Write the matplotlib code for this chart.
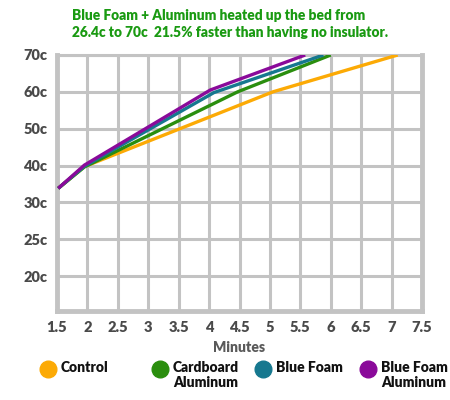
import matplotlib
matplotlib.use("Agg")
import matplotlib.pyplot as plt
import numpy as np
from matplotlib.lines import Line2D

plt.rcParams['font.family'] = ['Lato', 'DejaVu Sans']

# Data (minutes, temperature in c)
series_names = ["Control", "Cardboard\nAluminum", "Blue Foam", "Blue Foam\nAluminum"]
colors = ["#FCAA05", "#2A8E0E", "#16788F", "#8A0A9A"]
control_x = [1.52, 1.95, 5.05, 7.1]
control_y = [33.8, 39.7, 60.0, 70.0]
cardboard_x = [1.52, 1.95, 4.47, 6.0]
cardboard_y = [33.8, 39.6, 60.0, 70.0]
bluefoam_x = [1.52, 1.95, 4.08, 5.88]
bluefoam_y = [33.8, 39.8, 59.8, 70.0]
bluefoam_al_x = [1.52, 1.95, 4.02, 5.58]
bluefoam_al_y = [33.8, 40.1, 60.5, 70.0]

y_tick_values = [20, 25, 30, 40, 50, 60, 70]
y_tick_labels = ["20c", "25c", "30c", "40c", "50c", "60c", "70c"]
x_ticks = [1.5, 2, 2.5, 3, 3.5, 4, 4.5, 5, 5.5, 6, 6.5, 7, 7.5]
x_tick_labels = ["1.5", "2", "2.5", "3", "3.5", "4", "4.5", "5", "5.5", "6", "6.5", "7", "7.5"]

title = "Blue Foam + Aluminum heated up the bed from\n26.4c to 70c  21.5% faster than having no insulator."

ypos = np.arange(len(y_tick_values))

def tpos(v):
    return np.interp(v, y_tick_values, ypos)

W = "heavy"
fig = plt.figure(figsize=(4.5, 4.0), dpi=100)
ax = fig.add_axes([57/450, 1-311/400, (422-57)/450, (311-55)/400])

grid_c = "#C3C3C3"
for x in x_ticks:
    ax.axvline(x, color=grid_c, lw=2.2, zorder=1)
for y in ypos:
    ax.axhline(y, color=grid_c, lw=2.2, zorder=1)

all_x = [control_x, cardboard_x, bluefoam_x, bluefoam_al_x]
all_y = [control_y, cardboard_y, bluefoam_y, bluefoam_al_y]
for xs, ys, c in zip(all_x, all_y, colors):
    ax.plot(xs, tpos(np.array(ys)), color=c, lw=2.4, zorder=3, solid_capstyle='butt')

ax.set_xlim(1.5, 7.5)
ax.set_ylim(-0.95, 6)
for s in ax.spines.values():
    s.set_color(grid_c)
    s.set_linewidth(3.5)
ax.spines['top'].set_linewidth(2.2)

ax.set_xticks(x_ticks)
ax.set_xticklabels(x_tick_labels)
ax.set_yticks(ypos)
ax.set_yticklabels(y_tick_labels)
ax.tick_params(length=0, labelsize=10.5, labelcolor="#4A4A4A", pad=7)
for lab in ax.get_xticklabels() + ax.get_yticklabels():
    lab.set_fontweight(W)
ax.set_xlabel("Minutes", fontsize=10, fontweight=W, color="#5A5A5A", labelpad=5)

fig.text(72/450, 1-9/400, title, ha="left", va="top", fontsize=9.9,
         fontweight=W, color="#1A9A12", linespacing=1.4)

# legend
leg_x = [48, 160, 263, 368]
for lx, name, c in zip(leg_x, series_names, colors):
    fig.add_artist(Line2D([lx/450], [1-369/400], marker="o", markersize=12,
                          color=c, transform=fig.transFigure, linestyle="none"))
    fig.text((lx+13)/450, 1-361/400, name, ha="left", va="top", fontsize=10,
             fontweight=W, color="#111111", linespacing=1.2)

fig.savefig("out.png", dpi=100)
